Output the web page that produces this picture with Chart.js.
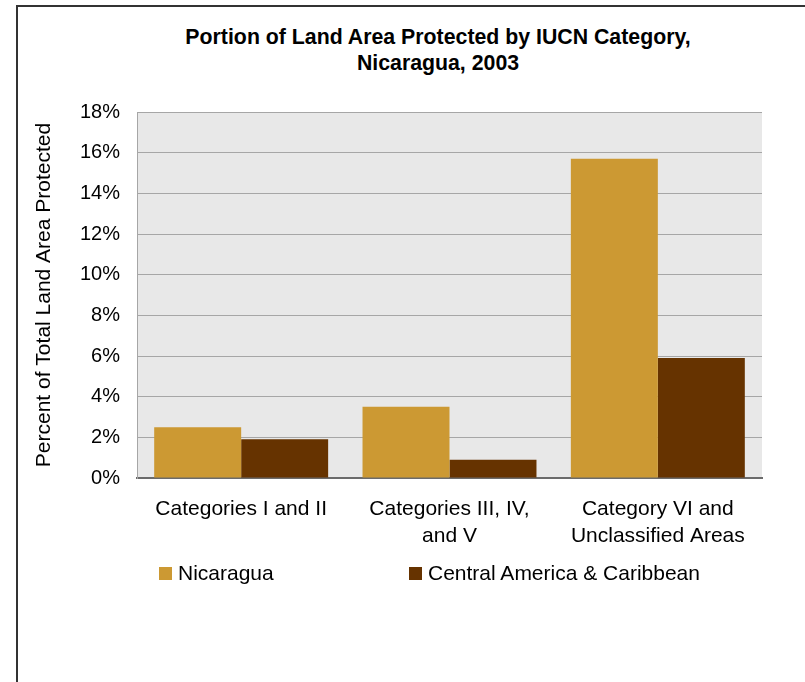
<!DOCTYPE html>
<html>
<head>
<meta charset="utf-8">
<script src="https://cdn.jsdelivr.net/npm/chart.js@4"></script>
<style>
    body { margin: 0; background: #fff; font-family: "Liberation Sans", Arial, sans-serif; }
    #wrap { position: relative; width: 805px; height: 682px; overflow: hidden; }
    #frame {
        position: absolute; left: 16px; top: 5px; width: 900px; height: 800px;
        border-top: 2px solid #333; border-left: 2px solid #333;
    }
    #title {
        position: absolute; left: 0; top: 24px; width: 876px;
        text-align: center; font-weight: bold; font-size: 21.3px; line-height: 26px; color: #000;
    }
    #chart { position: absolute; left: 0; top: 0; }
    .leg-box { position: absolute; width: 13px; height: 13px; top: 567px; }
    .leg-text { position: absolute; top: 560px; font-size: 21px; line-height: 26px; color: #000; white-space: nowrap; }
</style>
</head>
<body>
<div id="wrap">
    <div id="frame"></div>
    <div id="title">Portion of Land Area Protected by IUCN Category,<br>Nicaragua, 2003</div>
    <canvas id="chart" width="805" height="682"></canvas>
    <div id="legend"></div>
</div>
<script>
    /* =============================
       DATA
    ============================== */
    const categories = [
        "Categories I and II",
        ["Categories III, IV,", "and V"],
        ["Category VI and", "Unclassified Areas"]
    ];
    const nicaraguaValues = [2.5, 3.5, 15.7];
    const regionValues = [1.9, 0.9, 5.9];
    const seriesNames = ["Nicaragua", "Central America & Caribbean"];
    const seriesColors = ["#CC9933", "#663300"];

    const yMin = 0, yMax = 18, yStep = 2;

    const FONT = "'Liberation Sans', Arial, sans-serif";

    /* =============================
       PLOT BACKGROUND
    ============================== */
    const plotBackground = {
        id: "plotBackground",
        beforeDraw(chart) {
            const { ctx, chartArea: a } = chart;
            ctx.save();
            ctx.fillStyle = "#e8e8e8";
            ctx.fillRect(a.left, a.top, a.right - a.left, a.bottom - a.top);
            ctx.restore();
        }
    };

    new Chart(document.getElementById("chart"), {
        type: "bar",
        data: {
            labels: categories,
            datasets: [
                { label: seriesNames[0], data: nicaraguaValues, backgroundColor: seriesColors[0] },
                { label: seriesNames[1], data: regionValues, backgroundColor: seriesColors[1] }
            ]
        },
        options: {
            responsive: false,
            animation: false,
            devicePixelRatio: 1,
            layout: { padding: { left: 20, top: 112, right: 43, bottom: 0 } },
            datasets: { bar: { categoryPercentage: 0.835, barPercentage: 1.0 } },
            plugins: {
                legend: { display: false },
                title: { display: false },
                tooltip: { enabled: false }
            },
            scales: {
                x: {
                    afterFit: s => { s.height = 204; },
                    grid: { display: false, drawTicks: false },
                    border: { display: true, color: "#6b6b6b", width: 2 },
                    ticks: {
                        color: "#000",
                        padding: 18,
                        maxRotation: 0,
                        font: { family: FONT, size: 21, lineHeight: 1.286 }
                    }
                },
                y: {
                    min: yMin,
                    max: yMax,
                    afterFit: s => { s.width = 117; },
                    grid: { color: "#a6a6a6", lineWidth: 1, drawTicks: false },
                    border: { display: true, color: "#a6a6a6", width: 1 },
                    ticks: {
                        stepSize: yStep,
                        color: "#000",
                        padding: 17,
                        font: { family: FONT, size: 20 },
                        callback: v => v + "%"
                    },
                    title: {
                        display: true,
                        text: "Percent of Total Land Area Protected",
                        color: "#000",
                        font: { family: FONT, size: 21 },
                        padding: { top: 12, bottom: 0 }
                    }
                }
            }
        },
        plugins: [plotBackground]
    });

    /* =============================
       LEGEND (Excel-style columns)
    ============================== */
    const legendX = [159, 409];
    const legendEl = document.getElementById("legend");
    seriesNames.forEach((name, i) => {
        legendEl.innerHTML += `
            <div class="leg-box" style="left:${legendX[i]}px;background:${seriesColors[i]}"></div>
            <div class="leg-text" style="left:${legendX[i] + 19}px">${name.replace("&", "&amp;")}</div>`;
    });
</script>
</body>
</html>
